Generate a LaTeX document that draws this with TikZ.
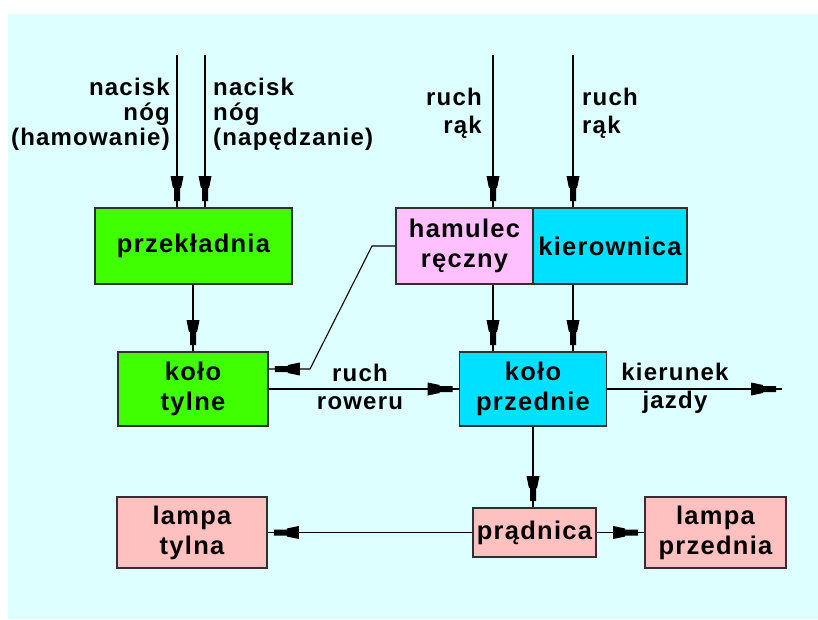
\documentclass[tikz,border=0pt]{standalone}
\usepackage{fontspec}
\setmainfont[LetterSpace=5]{Liberation Sans}
\usetikzlibrary{arrows.meta}

\definecolor{bgcyan}{HTML}{DDFFFF}
\definecolor{boxgreen}{HTML}{3FFF00}
\definecolor{boxpink}{HTML}{FFC0FF}
\definecolor{boxcyan}{HTML}{00E0FF}
\definecolor{boxrose}{HTML}{FFC0C0}
\definecolor{edge}{HTML}{303030}

% plug-shaped arrow tip: thin lead-in, narrow stem, flared back
\pgfdeclarearrow{
  name = Plug,
  setup code = {
    \pgfarrowssettipend{0pt}
    \pgfarrowssetlineend{0pt}
    \pgfarrowssetbackend{-31pt}
    \pgfarrowshullpoint{0pt}{0pt}
    \pgfarrowshullpoint{-31pt}{6.5pt}
    \pgfarrowshullpoint{-31pt}{-6.5pt}
  },
  drawing code = {
    \pgfpathmoveto{\pgfqpoint{-6pt}{3pt}}
    \pgfpathlineto{\pgfqpoint{-19pt}{3pt}}
    \pgfpathlineto{\pgfqpoint{-19pt}{4pt}}
    \pgfpathlineto{\pgfqpoint{-31pt}{6.5pt}}
    \pgfpathlineto{\pgfqpoint{-31pt}{-6.5pt}}
    \pgfpathlineto{\pgfqpoint{-19pt}{-4pt}}
    \pgfpathlineto{\pgfqpoint{-19pt}{-3pt}}
    \pgfpathlineto{\pgfqpoint{-6pt}{-3pt}}
    \pgfpathclose
    \pgfusepathqfill
  },
}

\begin{document}
\begin{tikzpicture}[x=1pt,y=-1pt,
  block/.style={draw=edge, line width=1.6pt, inner sep=0pt, align=center,
    font=\fontsize{25.5}{30}\selectfont\bfseries},
  tag/.style={inner sep=0pt, font=\fontsize{24}{25}\selectfont\bfseries},
  tagwide/.style={inner sep=0pt, font=\fontsize{24}{28}\selectfont\bfseries},
  flow/.style={line width=1.3pt, draw=black, -Plug}]

\useasboundingbox (0,0) rectangle (818,619);
\fill[white] (0,0) rectangle (818,619);
\fill[bgcyan] (8,14) rectangle (818,619);

% blocks
\node[block, fill=boxgreen, minimum width=197pt, minimum height=76pt] (przek) at (193.5,246) {przekładnia};
\node[block, fill=boxpink, minimum width=137pt, minimum height=76pt] (ham) at (464.5,246) {hamulec\\ręczny};
\node[block, fill=boxcyan, minimum width=154pt, minimum height=76pt] (kier) at (610,246) {kierownica};
\node[block, fill=boxgreen, minimum width=150pt, minimum height=74pt] (kt) at (193,389) {koło\\tylne};
\node[block, fill=boxcyan, minimum width=147pt, minimum height=74pt] (kp) at (533,389) {koło\\przednie};
\node[block, fill=boxrose, minimum width=150pt, minimum height=71pt] (lt) at (192,532.5) {lampa\\tylna};
\node[block, fill=boxrose, minimum width=123pt, minimum height=49pt] (pr) at (534.5,532.5) {prądnica};
\node[block, fill=boxrose, minimum width=141pt, minimum height=71pt] (lp) at (715.5,532.5) {lampa\\przednia};

% free ends
\coordinate (in1) at (177,55);
\coordinate (in2) at (205,55);
\coordinate (in3) at (493,55);
\coordinate (in4) at (573,55);
\coordinate (dir) at (782,389);
\coordinate (h1) at (372,246);
\coordinate (h2) at (310,369);

% inputs
\draw[flow] (in1) -- (in1 |- przek.north);
\draw[flow] (in2) -- (in2 |- przek.north);
\draw[flow] (in3) -- (in3 |- ham.north);
\draw[flow] (in4) -- (in4 |- kier.north);

% internal connections
\draw[flow] (przek.south -| kt) -- (kt.north);
\draw[flow] (in3 |- ham.south) -- (in3 |- kp.north);
\draw[flow] (in4 |- kier.south) -- (in4 |- kp.north);
\draw[flow] (kt.east) -- (kp.west);
\draw[flow] (kp.east) -- (dir);
\draw[flow] (kp.south) -- (kp.south |- pr.north);
\draw[flow] (pr.west) -- (lt.east);
\draw[flow] (pr.east) -- (lp.west);
\draw[flow, line width=1.1pt] (ham.west) -- (h1) -- (h2) -- (h2 -| kt.east);

% labels
\node[tag, anchor=north east, align=right] (t1) at (170,78) {nacisk\\nóg\\(hamowanie)};
\node[tag, anchor=north west, align=left] (t2) at (213,78) {nacisk\\nóg\\(napędzanie)};
\node[tagwide, anchor=north east, align=right] (t3) at (482,88) {ruch\\rąk};
\node[tagwide, anchor=north west, align=left] (t4) at (582,88) {ruch\\rąk};
\node[tagwide, anchor=north, align=center] (t5) at (360,364) {ruch\\roweru};
\node[tagwide, anchor=north, align=center] (t6) at (675,363) {kierunek\\jazdy};
\end{tikzpicture}
\end{document}
